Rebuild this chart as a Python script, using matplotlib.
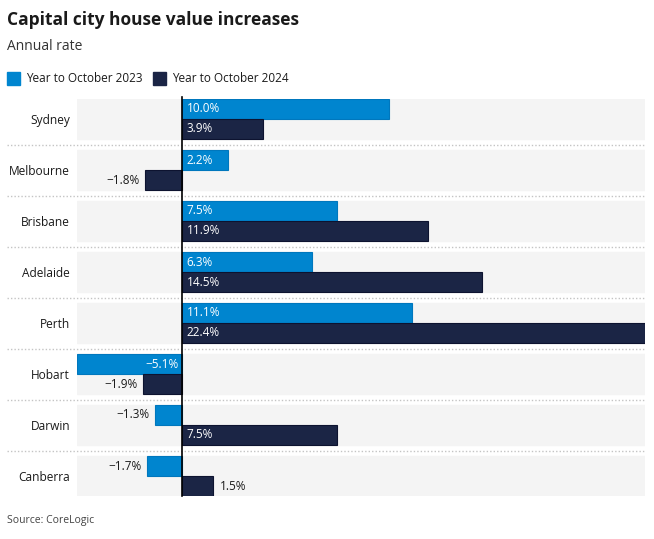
import numpy as np
import matplotlib.pyplot as plt
from matplotlib.patches import Rectangle

plt.rcParams['font.family'] = ['Open Sans', 'DejaVu Sans']

# Data
cities = ['Sydney', 'Melbourne', 'Brisbane', 'Adelaide', 'Perth',
          'Hobart', 'Darwin', 'Canberra']
year_2023 = [10.0, 2.2, 7.5, 6.3, 11.1, -5.1, -1.3, -1.7]
year_2024 = [3.9, -1.8, 11.9, 14.5, 22.4, -1.9, 7.5, 1.5]
series_names = ['Year to October 2023', 'Year to October 2024']

blue = '#0085cf'
navy = '#1b2545'
text_col = '#1a1a1a'

fig = plt.figure(figsize=(6.54, 5.39), dpi=100)
ax = fig.add_axes([77 / 654, 1 - 496 / 539, 568 / 654, 397 / 539])

xmin, xmax = -5.1, 22.4
band = 40 / 51       # band height in row units
bh = band / 2        # bar height
ax.set_xlim(xmin, xmax)
ax.set_ylim(len(cities) - 1 + band, 0)

y = np.arange(len(cities))

# grey bands and dotted separators
for i in y:
    ax.axhspan(i, i + band, color='#f4f4f4', zorder=0)
    if i > 0:
        ax.axhline(i - (1 - band) / 2, xmin=-70 / 568, xmax=1, color='#c4c4c4',
                   lw=1, ls=(0, (1, 1.5)), clip_on=False, zorder=1)

ax.barh(y + 0.5 * bh, year_2023, height=bh, color=blue,
        edgecolor='#0077bd', lw=0.8, zorder=2)
ax.barh(y + 1.5 * bh, year_2024, height=bh, color=navy,
        edgecolor='#0d1330', lw=0.8, zorder=2)

ax.axvline(0, ymin=0, ymax=1.005, color='black', lw=1.2, zorder=3, clip_on=False)

# value labels
for yy, vals in [(y + 0.5 * bh, year_2023), (y + 1.5 * bh, year_2024)]:
    for yi, v in zip(yy, vals):
        s = '{:.1f}%'.format(v).replace('-', '\u2212')
        inside = abs(v) >= 2.0
        if v >= 0:
            if inside:
                ax.annotate(s, (0, yi), xytext=(3, 0), textcoords='offset points',
                            ha='left', va='center', color='white', fontsize=8.5)
            else:
                ax.annotate(s, (v, yi), xytext=(5, 0), textcoords='offset points',
                            ha='left', va='center', color=text_col, fontsize=8.5)
        else:
            if inside:
                ax.annotate(s, (0, yi), xytext=(-3, 0), textcoords='offset points',
                            ha='right', va='center', color='white', fontsize=8.5)
            else:
                ax.annotate(s, (v, yi), xytext=(-4, 0), textcoords='offset points',
                            ha='right', va='center', color=text_col, fontsize=8.5)

ax.set_yticks(y + bh)
ax.set_yticklabels(cities, fontsize=8.6, color=text_col)
ax.tick_params(axis='y', length=0, pad=5)
ax.set_xticks([])
for sp in ax.spines.values():
    sp.set_visible(False)

# titles
fig.text(7 / 654, 1 - 20 / 539, 'Capital city house value increases',
         fontsize=12.5, fontweight='bold', color=text_col, va='center')
fig.text(7 / 654, 1 - 47 / 539, 'Annual rate', fontsize=10,
         color='#333333', va='center')

# legend
for x0, col, name in [(7, blue, series_names[0]), (153, navy, series_names[1])]:
    fig.patches.append(Rectangle((x0 / 654, 1 - 85 / 539), 13 / 654, 13 / 539,
                                 transform=fig.transFigure, color=col))
    fig.text((x0 + 19) / 654, 1 - 78 / 539, name, fontsize=8.5,
             color=text_col, va='center')

fig.text(7 / 654, 1 - 521 / 539, 'Source: CoreLogic', fontsize=7.5,
         color='#444444', va='center')

fig.savefig('out.png', dpi=100)
